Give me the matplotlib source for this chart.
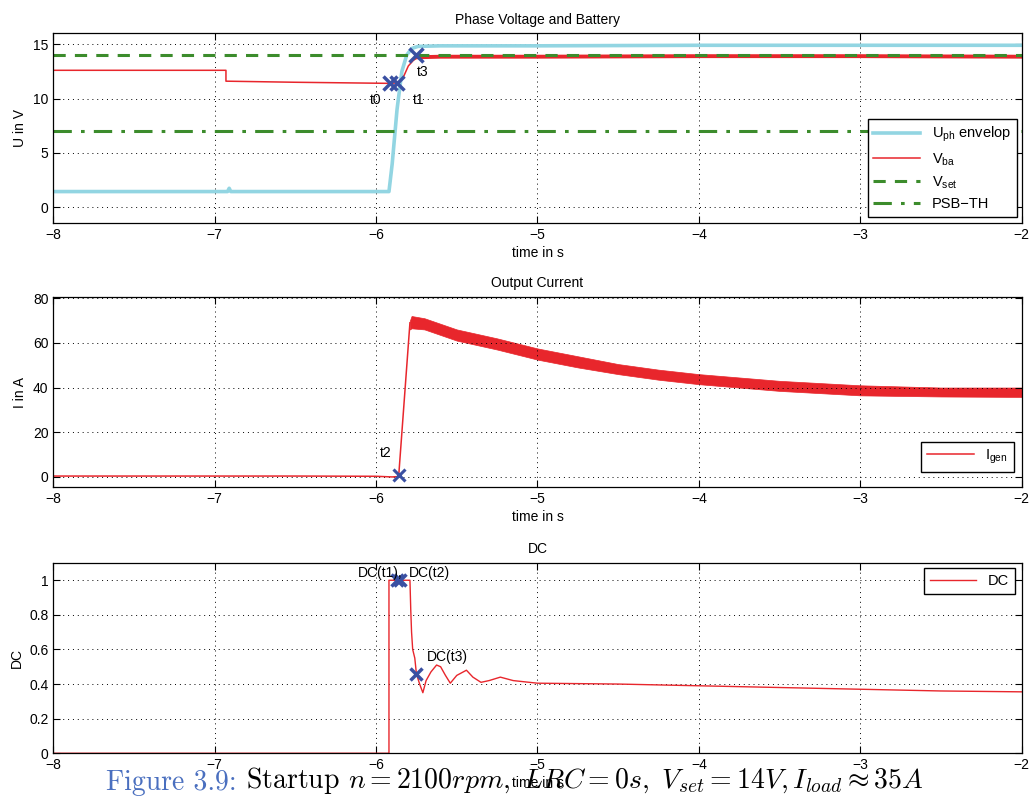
import matplotlib
matplotlib.use('Agg')
import matplotlib.pyplot as plt

plt.rcParams['font.family'] = ['Liberation Sans', 'DejaVu Sans']

# Phase voltage envelope (top)
t_uph = [-8.0, -6.92, -6.91, -6.90, -5.92, -5.90, -5.87, -5.84, -5.81, -5.78, -5.74, -5.6, -5.0, -4.0, -3.0, -2.0]
u_uph = [1.45, 1.45, 1.75, 1.45, 1.45, 4.0, 9.0, 12.5, 14.0, 14.6, 14.8, 14.85, 14.85, 14.9, 14.9, 14.9]

# Battery voltage
t_vba = [-8.0, -6.93, -6.93, -6.5, -5.92, -5.86, -5.83, -5.80, -5.77, -5.74, -5.6, -5.0, -4.0, -3.0, -2.0]
v_vba = [12.6, 12.6, 11.6, 11.5, 11.4, 11.45, 12.0, 13.0, 13.5, 13.8, 13.85, 13.85, 13.9, 13.9, 13.85]

v_set = 14
psb_th = 7

t_mark_top = [-5.914, -5.873, -5.75]
v_mark_top = [11.45, 11.45, 14.05]

# Output current
t_ig = [-8.0, -6.5, -6.0, -5.9, -5.86, -5.79]
ig = [0.4, 0.4, 0.3, 0.0, 0.2, 69.0]
t_band = [-5.79, -5.78, -5.7, -5.5, -5.25, -5.0, -4.75, -4.5, -4.25, -4.0, -3.5, -3.0, -2.5, -2.0]
ig_up = [70, 72, 71, 66, 62, 57.5, 54, 50.5, 48, 46, 43, 41, 40, 40]
ig_lo = [66, 66.5, 66, 61, 57, 52.5, 49, 46, 43.5, 41.5, 38.5, 36.5, 36, 35.8]
t_mark_ig = [-5.856]
ig_mark = [0.9]

# Duty cycle
t_dc = [-8, -5.92, -5.92, -5.79, -5.785, -5.78, -5.773, -5.76, -5.75, -5.73, -5.71, -5.69,
        -5.66, -5.625, -5.6, -5.57, -5.54, -5.5, -5.44, -5.4, -5.35, -5.3, -5.23, -5.15,
        -5.0, -4.5, -4.0, -3.5, -3.0, -2.5, -2.0]
dc = [0, 0, 1, 1, 0.83, 0.7, 0.6, 0.55, 0.46, 0.4, 0.35, 0.42,
      0.47, 0.51, 0.5, 0.45, 0.405, 0.45, 0.48, 0.44, 0.41, 0.42, 0.44, 0.42,
      0.405, 0.40, 0.39, 0.38, 0.37, 0.36, 0.355]
t_mark_dc = [-5.873, -5.85, -5.75]
dc_mark = [1.0, 1.0, 0.46]

dc_ticks = [0, 0.2, 0.4, 0.6, 0.8, 1]
dc_ticklabels = ['0', '0.2', '0.4', '0.6', '0.8', '1']

RED = '#e8262c'
LBLUE = '#92d5e2'
GREEN = '#3c8c2c'
MBLUE = '#3a50a2'

fig = plt.figure(figsize=(10.3, 8.01), dpi=100)
ax1 = fig.add_axes([0.0517, 0.7212, 0.9402, 0.2372])
ax2 = fig.add_axes([0.0517, 0.392, 0.9402, 0.2372])
ax3 = fig.add_axes([0.0517, 0.0596, 0.9402, 0.2376])


def style(ax, ylim, yticks, title, ylabel):
    ax.set_xlim(-8, -2)
    ax.set_ylim(*ylim)
    ax.set_yticks(yticks)
    ax.set_xticks([-8, -7, -6, -5, -4, -3, -2])
    ax.grid(True, linestyle=(0, (1, 4)), color='k', lw=0.7)
    ax.tick_params(direction='in', top=True, right=True, length=5, labelsize=10)
    ax.set_title(title, fontsize=10, pad=7)
    ax.set_xlabel('time in s', fontsize=10, labelpad=3)
    ax.set_ylabel(ylabel, fontsize=10, labelpad=4)
    for s in ax.spines.values():
        s.set_linewidth(0.9)


# top
ax1.plot(t_uph, u_uph, color=LBLUE, lw=2.6, label=r'U$_\mathregular{ph}$ envelop')
ax1.plot(t_vba, v_vba, color=RED, lw=1.1, label=r'V$_\mathregular{ba}$')
i0 = t_vba.index(-5.74)
ax1.plot(t_vba[i0:], v_vba[i0:], color=RED, lw=2.8)
ax1.axhline(v_set, color=GREEN, lw=2.2, ls=(0, (4, 3)), label=r'V$_\mathregular{set}$')
ax1.axhline(psb_th, color=GREEN, lw=2.2, ls=(0, (6, 3, 1.2, 3)), label='PSB\u2212TH')
ax1.plot(t_mark_top, v_mark_top, 'x', color=MBLUE, ms=10, mew=2.5)
ax1.text(-6.0, 9.87, 't0', ha='center', va='center', fontsize=10)
ax1.text(-5.734, 9.87, 't1', ha='center', va='center', fontsize=10)
ax1.text(-5.71, 12.4, 't3', ha='center', va='center', fontsize=10)
style(ax1, (-1.47, 16.0), [0, 5, 10, 15], 'Phase Voltage and Battery', 'U in V')
ax1.legend(loc='lower right', bbox_to_anchor=(0.995, 0.032), borderaxespad=0,
           fontsize=10.5, fancybox=False, edgecolor='k', framealpha=1,
           handlelength=3.2, labelspacing=0.45)

# middle
ax2.plot(t_ig, ig, color=RED, lw=1.1, label=r'I$_\mathregular{gen}$')
ax2.fill_between(t_band, ig_lo, ig_up, color=RED, lw=0.5)
ax2.plot(t_mark_ig, ig_mark, 'x', color=MBLUE, ms=9, mew=2.2)
ax2.text(-5.94, 10.6, 't2', ha='center', va='center', fontsize=10)
style(ax2, (-4.5, 80.5), [0, 20, 40, 60, 80], 'Output Current', 'I in A')
ax2.legend(loc='lower right', bbox_to_anchor=(0.992, 0.079), borderaxespad=0,
           fontsize=10.5, fancybox=False, edgecolor='k', framealpha=1,
           handlelength=3.2)

# bottom
ax3.plot(t_dc, dc, color=RED, lw=1.0, label='DC')
ax3.plot(t_mark_dc, dc_mark, 'x', color=MBLUE, ms=9, mew=2.5)
ax3.text(-6.11, 1.04, 'DC(t1),', ha='left', va='center', fontsize=10)
ax3.text(-5.795, 1.04, 'DC(t2)', ha='left', va='center', fontsize=10)
ax3.text(-5.686, 0.557, 'DC(t3)', ha='left', va='center', fontsize=10)
style(ax3, (0, 1.1), dc_ticks, 'DC', 'DC')
ax3.set_yticklabels(dc_ticklabels)
ax3.legend(loc='upper right', bbox_to_anchor=(0.993, 0.974), borderaxespad=0,
           fontsize=10.5, fancybox=False, edgecolor='k', framealpha=1,
           handlelength=3.2)

# caption
cap1 = fig.text(0.103, 0.0137, 'Figure 3.9:', color='#4a6fbf', family='cmr10',
                fontsize=20, va='baseline')
fig.canvas.draw()
ax3.annotate(r' Startup $n = 2100rpm,\ LRC = 0s,\ V_{set} = 14V, I_{load} \approx 35A$',
             xy=(1, 0), xycoords=cap1, va='bottom', ha='left', fontsize=20,
             family='cmr10', math_fontfamily='cm', annotation_clip=False)

fig.savefig('out.png', dpi=100)
